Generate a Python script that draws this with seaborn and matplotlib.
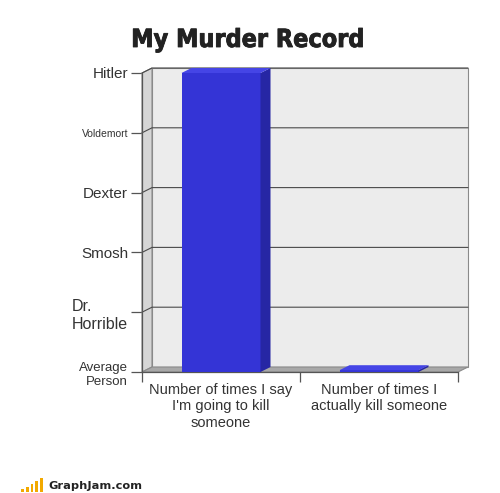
import numpy as np
import pandas as pd
import seaborn as sns
import matplotlib.pyplot as plt
import matplotlib.patheffects as pe
from matplotlib.patches import Polygon, Rectangle

# datos de la gráfica
categories = ["Number of times I say\nI'm going to kill\nsomeone",
              "Number of times I\nactually kill someone"]
values = [5.0, 0.03]
levels = ["Average\nPerson", "Dr.\nHorrible", "Smosh", "Dexter", "Voldemort", "Hitler"]
level_sizes = [9.5, 11.5, 11, 11, 7.5, 11]
level_align = ["right", "left", "center", "center", "center", "center"]

sns.set_style("white")
plt.rcParams['font.family'] = ['Liberation Sans', 'DejaVu Sans']

W, H = 500, 493
fig = plt.figure(figsize=(5, 4.93), dpi=100)
x0, x1, ytop, ybot = 142, 458, 73, 372
ax = fig.add_axes([x0 / W, 1 - ybot / H, (x1 - x0) / W, (ybot - ytop) / H])
ax.set_facecolor("none")

df = pd.DataFrame({"cat": categories, "val": values})
sns.barplot(data=df, x="cat", y="val", width=0.5, color="#3434d6",
            saturation=1, ax=ax, zorder=5, linewidth=0)
ax.set_xlim(-0.5, 1.5)
ax.set_ylim(0, 5)

# profundidad del efecto 3D (10 px a la derecha, 5 px arriba)
dx = 10 / (x1 - x0) * 2
dy = 5 / (ybot - ytop) * 5
xl, xr = -0.5, 1.5
kw = dict(clip_on=False, transform=ax.transData)

# paredes
ax.add_patch(Polygon([(xl + dx, dy), (xr + dx, dy), (xr + dx, 5 + dy), (xl + dx, 5 + dy)],
                     closed=True, fc="#ececec", ec="#8a8a8a", lw=0.8, zorder=0, **kw))
ax.add_patch(Polygon([(xl, 0), (xl, 5), (xl + dx, 5 + dy), (xl + dx, dy)],
                     closed=True, fc="#d6d6d6", ec="#8a8a8a", lw=0.8, zorder=1, **kw))
ax.add_patch(Polygon([(xl, 0), (xr, 0), (xr + dx, dy), (xl + dx, dy)],
                     closed=True, fc="#a8a8a8", ec="#8a8a8a", lw=0.8, zorder=1, **kw))

# rejilla
for lv in range(1, 6):
    ax.plot([xl, xl + dx, xr + dx], [lv, lv + dy, lv + dy], color="#4a4a4a",
            lw=0.8, zorder=2, **kw)

# caras laterales y superiores de las barras
for p in ax.patches[:]:
    if not isinstance(p, Rectangle) or p.get_zorder() != 5:
        continue
    bx, bw, bh = p.get_x(), p.get_width(), p.get_height()
    ax.add_patch(Polygon([(bx + bw, 0), (bx + bw + dx, dy), (bx + bw + dx, bh + dy), (bx + bw, bh)],
                         closed=True, fc="#2626a4", ec="none", zorder=5, **kw))
    ax.add_patch(Polygon([(bx, bh), (bx + bw, bh), (bx + bw + dx, bh + dy), (bx + dx, bh + dy)],
                         closed=True, fc="#4545e6", ec="none", zorder=6, **kw))

# ejes
sns.despine(ax=ax, top=True, right=True)
for s in ("left", "bottom"):
    ax.spines[s].set_color("#555555")
    ax.spines[s].set_linewidth(0.9)
ax.set_yticks(range(len(levels)))
ax.set_yticklabels(levels, ha="right")
for t, s, a in zip(ax.get_yticklabels(), level_sizes, level_align):
    t.set_fontsize(s)
    t.set_color("#333333")
    t.set_multialignment(a)
    t.set_linespacing(1.25)
ax.tick_params(axis="y", length=8, width=0.9, color="#555555", pad=2, left=True)
ax.set_xticks([0, 1])
ax.set_xticklabels(categories, fontsize=10.5, color="#333333", linespacing=1.2)
ax.tick_params(axis="x", length=0, pad=8)
ax.set_xticks([-0.5, 0.5, 1.5], minor=True)
ax.tick_params(axis="x", which="minor", length=7, width=0.9, color="#555555", bottom=True)
ax.set_xlabel("")
ax.set_ylabel("")

# título
fig.text(248 / W, 1 - 40 / H, "My Murder Record", ha="center", va="center",
         fontsize=18, fontweight="bold", fontstretch="condensed",
         family="DejaVu Sans", color="#222222",
         path_effects=[pe.withStroke(linewidth=0.6, foreground="#222222")])

# logo GraphJam
for i, h in enumerate([3, 5, 8, 11, 14]):
    fig.patches.append(Rectangle(((21 + i * 4.8) / W, 1 - 492 / H), 2.8 / W, h / H,
                                 transform=fig.transFigure, fc="#f2a900", ec="none"))
fig.text(48 / W, 1 - 486 / H, "GraphJam.com", ha="left", va="center", fontsize=8.2,
         fontweight="bold", family="DejaVu Sans", color="#222222")

fig.savefig("out.png", dpi=100)
